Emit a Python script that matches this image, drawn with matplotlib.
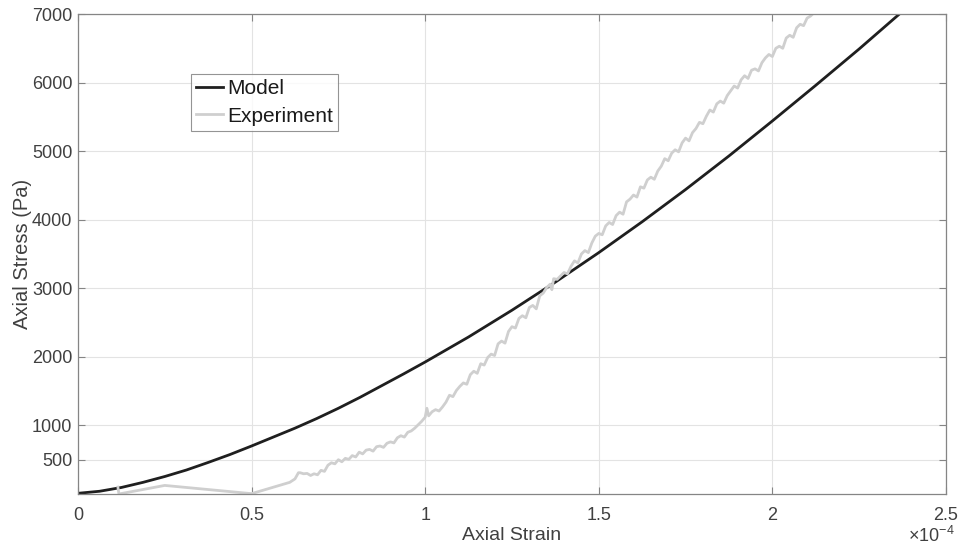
import matplotlib
matplotlib.use('Agg')
import matplotlib.pyplot as plt

plt.rcParams['font.family'] = ['Liberation Sans', 'DejaVu Sans']
plt.rcParams['mathtext.fontset'] = 'custom'
plt.rcParams['mathtext.rm'] = 'Liberation Sans'

# strain in units of 1e-4, stress in Pa
model_strain = [0.0, 0.0625, 0.125, 0.1875, 0.25, 0.3125, 0.375, 0.4375, 0.5,
                0.5625, 0.625, 0.6875, 0.75, 0.8125, 0.875, 0.9375, 1.0, 1.125,
                1.25, 1.375, 1.5, 1.625, 1.75, 1.875, 2.0, 2.125, 2.25, 2.375]
model_stress = [10, 40, 95, 170, 255, 350, 460, 575, 700,
                830, 960, 1100, 1250, 1410, 1580, 1750, 1925, 2290,
                2680, 3090, 3520, 3970, 4440, 4930, 5440, 5960, 6490, 7040]

exp_strain = [0.115, 0.118, 0.25, 0.50, 0.61, 0.625, 0.635,
              0.64, 0.65, 0.66, 0.67, 0.68, 0.69, 0.70, 0.71, 0.72, 0.73,
              0.74, 0.75, 0.76, 0.77, 0.78, 0.79, 0.80, 0.81, 0.82, 0.83,
              0.84, 0.85, 0.86, 0.87, 0.88, 0.89, 0.90, 0.91, 0.92, 0.93,
              0.94, 0.95, 0.96, 0.97, 0.98, 0.99, 1.00, 1.005, 1.01, 1.02,
              1.03, 1.04, 1.05, 1.06, 1.07, 1.08, 1.09, 1.10, 1.11, 1.12,
              1.13, 1.14, 1.15, 1.16, 1.17, 1.18, 1.19, 1.20, 1.21, 1.22,
              1.23, 1.24, 1.25, 1.26, 1.27, 1.28, 1.29, 1.30, 1.31, 1.32,
              1.33, 1.34, 1.35, 1.36, 1.365, 1.37, 1.38, 1.39, 1.40, 1.41,
              1.42, 1.43, 1.44, 1.45, 1.46, 1.47, 1.48, 1.49, 1.50, 1.51,
              1.52, 1.53, 1.54, 1.55, 1.56, 1.57, 1.58, 1.59, 1.60, 1.61,
              1.62, 1.63, 1.64, 1.65, 1.66, 1.67, 1.68, 1.69, 1.70, 1.71,
              1.72, 1.73, 1.74, 1.75, 1.76, 1.77, 1.78, 1.79, 1.80, 1.81,
              1.82, 1.83, 1.84, 1.85, 1.86, 1.87, 1.88, 1.89, 1.90, 1.91,
              1.92, 1.93, 1.94, 1.95, 1.96, 1.97, 1.98, 1.99, 2.00, 2.01,
              2.02, 2.03, 2.04, 2.05, 2.06, 2.07, 2.08, 2.09, 2.10, 2.11,
              2.12, 2.13, 2.14]
exp_stress = [100, 0, 125, 5, 170, 220, 310,
              310, 295, 300, 270, 295, 280, 345, 330, 420, 455,
              440, 500, 470, 520, 505, 560, 540, 610, 585, 640,
              650, 625, 690, 700, 680, 740, 760, 745, 820, 850,
              830, 900, 920, 960, 1010, 1060, 1120, 1250, 1140, 1200,
              1230, 1210, 1270, 1340, 1440, 1420, 1510, 1570, 1620, 1600,
              1740, 1790, 1760, 1900, 1880, 1990, 2040, 2020, 2190, 2230,
              2200, 2370, 2440, 2420, 2560, 2600, 2570, 2720, 2750, 2700,
              2890, 2930, 3010, 3060, 2980, 3140, 3130, 3180, 3230, 3210,
              3320, 3400, 3370, 3500, 3550, 3520, 3660, 3760, 3800, 3780,
              3910, 3960, 3930, 4060, 4110, 4080, 4260, 4300, 4360, 4330,
              4480, 4460, 4580, 4620, 4590, 4710, 4780, 4890, 4860, 4970,
              5020, 4990, 5120, 5190, 5150, 5270, 5330, 5420, 5400, 5510,
              5600, 5570, 5690, 5730, 5700, 5810, 5880, 5950, 5920, 6040,
              6100, 6060, 6180, 6200, 6170, 6290, 6360, 6410, 6380, 6500,
              6530, 6500, 6650, 6690, 6660, 6800, 6850, 6830, 6940, 6970,
              7020, 7060, 7100]

x_ticks = [0, 0.5, 1, 1.5, 2, 2.5]
x_labels = ['0', '0.5', '1', '1.5', '2', '2.5']
y_ticks = [500, 1000, 2000, 3000, 4000, 5000, 6000, 7000]

txt = '#404040'
spine = '#858585'

fig = plt.figure(figsize=(9.59, 5.47), dpi=100)
ax = fig.add_axes([0.0813, 0.0969, 0.9051, 0.8775])

ax.plot(model_strain, model_stress, color='#1f1f1f', lw=2.0, label='Model')
ax.plot(exp_strain, exp_stress, color='#cfcfcf', lw=2.0, label='Experiment')

ax.set_xlim(0, 2.5)
ax.set_ylim(0, 7000)
ax.set_xticks(x_ticks)
ax.set_xticklabels(x_labels)
ax.set_yticks(y_ticks)
ax.grid(True, color='#e3e3e3', lw=0.8)
ax.set_axisbelow(True)
for s in ax.spines.values():
    s.set_color(spine)
    s.set_linewidth(0.9)
ax.tick_params(direction='in', length=5, width=0.8, color=spine,
               labelcolor=txt, labelsize=13, top=True, right=True)
ax.tick_params(axis='x', pad=9.5)
ax.tick_params(axis='y', pad=4)

ax.set_xlabel('Axial Strain', fontsize=14, color=txt, labelpad=2)
ax.set_ylabel('Axial Stress (Pa)', fontsize=14.5, color=txt, labelpad=0)
ax.text(1.01, -0.101, r'$\times\mathregular{10^{-4}}$', transform=ax.transAxes,
        ha='right', va='baseline', fontsize=13, color=txt)

leg = ax.legend(loc='upper left', bbox_to_anchor=(0.130, 0.875), fontsize=15,
                frameon=True, fancybox=False, edgecolor='#7a7a7a',
                handlelength=1.3, handletextpad=0.2, borderpad=0.25,
                labelspacing=0.4, borderaxespad=0)
leg.get_frame().set_linewidth(0.8)
for t in leg.get_texts():
    t.set_color('#1a1a1a')

fig.savefig('out.png', dpi=100)
